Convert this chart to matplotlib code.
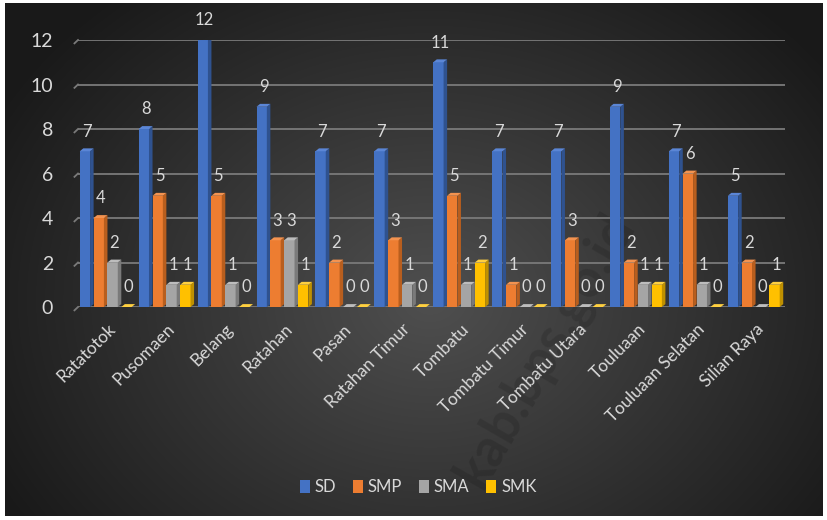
import numpy as np
import matplotlib
matplotlib.use("Agg")
import matplotlib.pyplot as plt
from matplotlib.patches import Polygon

plt.rcParams["font.family"] = ["Lato", "DejaVu Sans"]

kecamatan = ["Ratatotok", "Pusomaen", "Belang", "Ratahan", "Pasan", "Ratahan Timur",
             "Tombatu", "Tombatu Timur", "Tombatu Utara", "Touluaan",
             "Touluaan Selatan", "Silian Raya"]
sd  = [7, 8, 12, 9, 7, 7, 11, 7, 7, 9, 7, 5]
smp = [4, 5, 5, 3, 2, 3, 5, 1, 3, 2, 6, 2]
sma = [2, 1, 1, 3, 0, 1, 1, 0, 0, 1, 1, 0]
smk = [0, 1, 0, 1, 0, 0, 2, 0, 0, 1, 0, 1]

series = [("SD", sd), ("SMP", smp), ("SMA", sma), ("SMK", smk)]
FRONT = ["#4472C4", "#ED7D31", "#A5A5A5", "#FFC000"]
SIDE  = ["#2F528F", "#B85E1E", "#7A7A7A", "#BF9000"]
TOP   = ["#5B86D6", "#F49350", "#BDBDBD", "#FFD040"]
TXT = "#D9D9D9"

W, H = 828, 520
fig = plt.figure(figsize=(W / 100, H / 100), dpi=100)

# background: dark radial gradient inside a thin white margin
bg = fig.add_axes([0, 0, 1, 1])
bg.set_xlim(0, W)
bg.set_ylim(H, 0)
bg.axis("off")
yy, xx = np.mgrid[0:H, 0:W]
r = np.sqrt(((xx - 430) / 520.0) ** 2 + ((yy - 300) / 420.0) ** 2)
shade = np.clip(0.31 - 0.22 * r, 0.10, 0.31)
img = np.dstack([shade, shade, shade])
bg.imshow(img, extent=[5, 823, 516, 3], aspect="auto", zorder=0)
# faint watermark
bg.text(545, 350, "kab.bps.go.id", fontsize=38, rotation=60, color="black",
        alpha=0.13, ha="center", va="center", fontweight="bold", zorder=20)

ax = fig.add_axes([78 / W, 1 - 307 / H, 707 / W, 267 / H])
ax.patch.set_visible(False)
ax.set_xlim(-0.5, 11.5)
ax.set_ylim(0, 12)
for s in ax.spines.values():
    s.set_visible(False)

for v in range(0, 13, 2):
    ax.plot([-0.5, 11.5], [v, v], color="#7a7a7a", lw=1.3, zorder=1)
    ax.plot([-0.56, -0.5], [v - 0.15, v], color="#7a7a7a", lw=1.3, zorder=1,
            clip_on=False)

w, dx, dy = 0.175, 0.06, 0.13
pitch = w + dx
x = np.arange(len(kecamatan))
for j, (name, vals) in enumerate(series):
    left = x - 0.47 + j * pitch
    ax.bar(left, vals, width=w, align="edge", color=FRONT[j], zorder=3 + j,
           label=name, linewidth=0)
    for l, v in zip(left, vals):
        ax.add_patch(Polygon([(l + w, 0), (l + w + dx, dy), (l + w + dx, v + dy), (l + w, v)],
                             closed=True, facecolor=SIDE[j], lw=0, zorder=3 + j))
        ax.add_patch(Polygon([(l, v), (l + dx, v + dy), (l + w + dx, v + dy), (l + w, v)],
                             closed=True, facecolor=TOP[j], lw=0, zorder=3 + j))
        ax.annotate(str(v), (l + (w + dx) / 2, v + dy), xytext=(0, 12),
                    textcoords="offset points", ha="center", va="center",
                    fontsize=12, color=TXT, annotation_clip=False, zorder=10)

ax.set_yticks(range(0, 13, 2))
ax.set_yticklabels([str(v) for v in range(0, 13, 2)], fontsize=14, color=TXT)
ax.tick_params(axis="y", length=0, pad=18)
ax.set_xticks(x)
ax.set_xticklabels(kecamatan, rotation=45, ha="right", rotation_mode="anchor",
                   fontsize=12.5, color=TXT)
ax.tick_params(axis="x", length=0, pad=10)

leg = fig.legend(loc="center", bbox_to_anchor=(0.505, 0.063), ncol=4, frameon=False,
                 handlelength=0.6, handleheight=0.9, handletextpad=0.3,
                 columnspacing=1.0, fontsize=12)
for t in leg.get_texts():
    t.set_color(TXT)

fig.savefig("out.png", dpi=100)
